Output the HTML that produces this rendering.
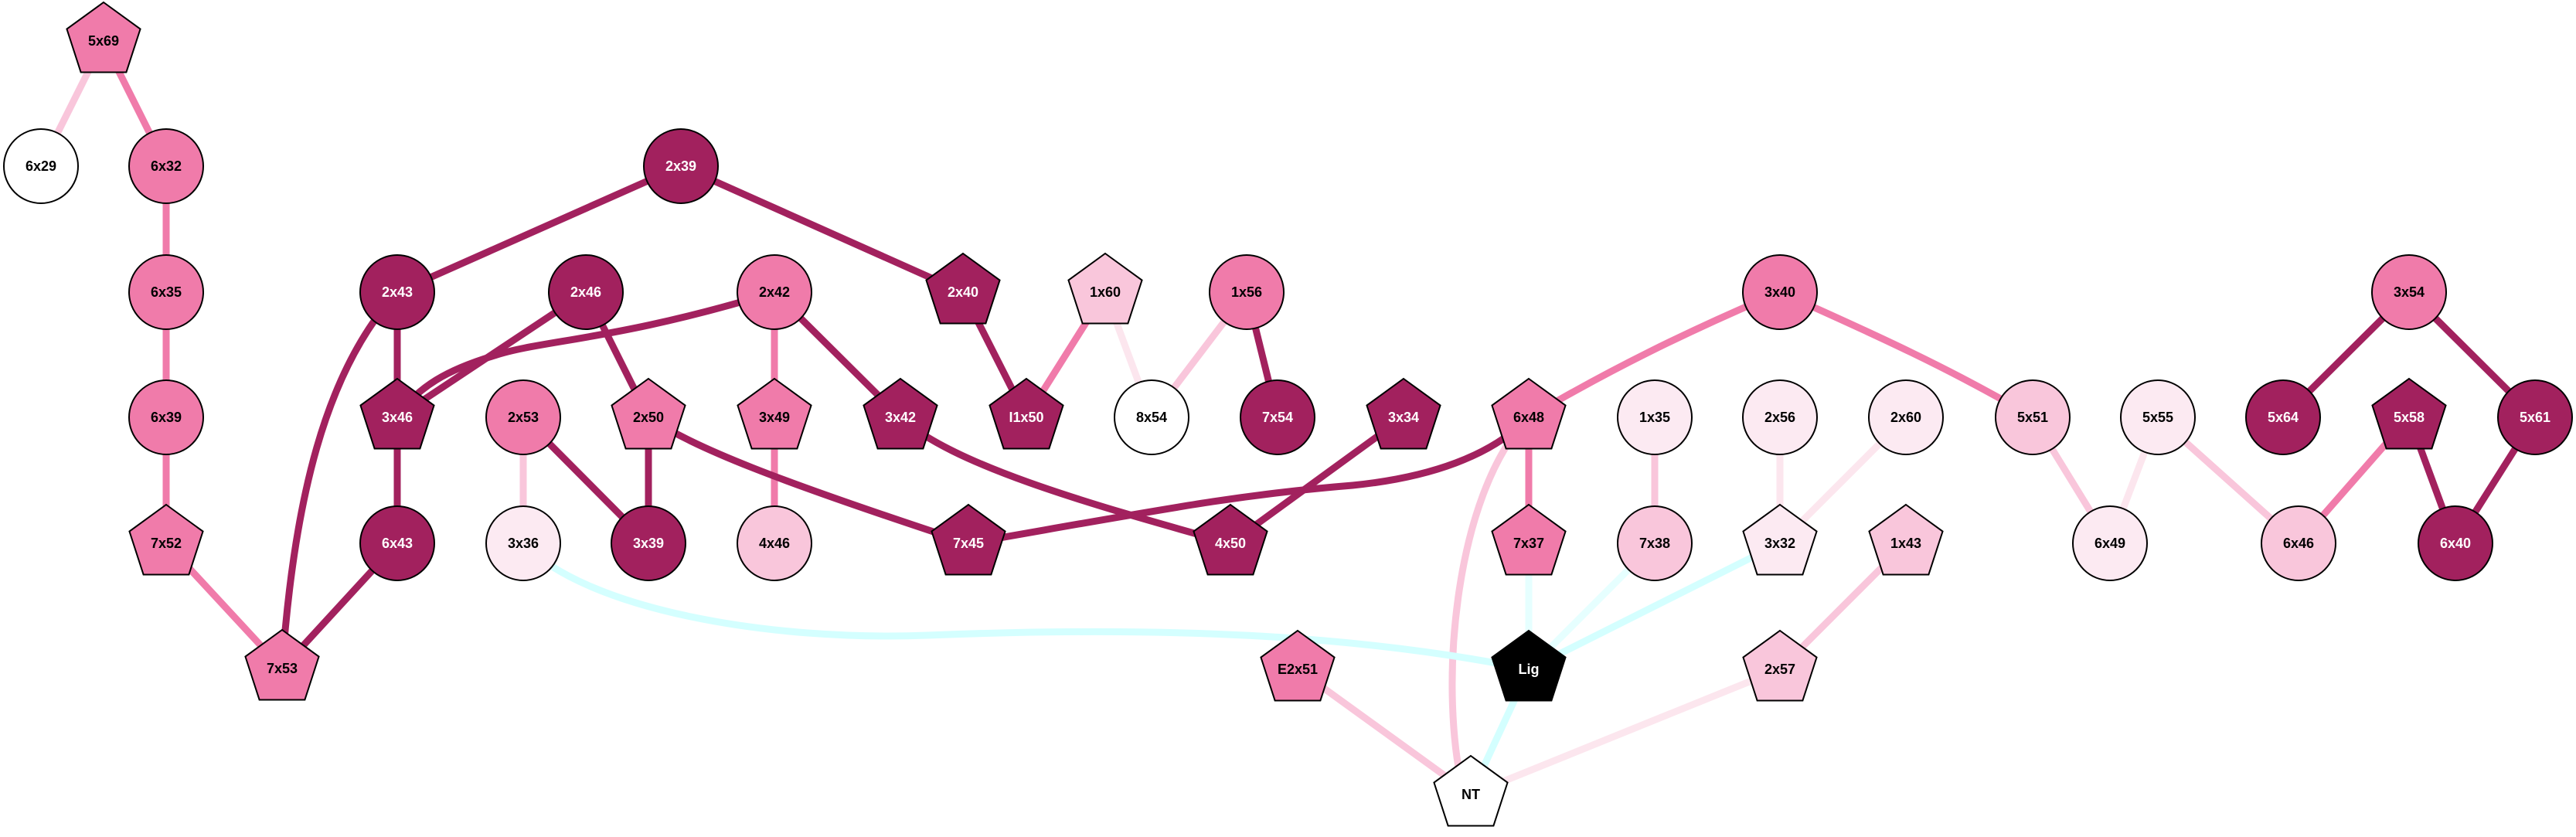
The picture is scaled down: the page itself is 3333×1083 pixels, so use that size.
<!DOCTYPE html>
<html><head><meta charset="utf-8"><style>html,body{margin:0;padding:0;background:#fff}svg{display:block}text{font-family:"Liberation Sans",sans-serif;font-weight:bold;font-size:18px;text-anchor:middle;dominant-baseline:central}</style></head>
<body>
<svg width="3333" height="1083" viewBox="0 0 3333 1083" xmlns="http://www.w3.org/2000/svg">
<defs>
<polygon id="pg" points="0,-50 47.55,-15.45 29.39,40.45 -29.39,40.45 -47.55,-15.45" stroke="#000" stroke-width="2"/>
</defs>
<g fill="none" stroke-width="9">
<!-- left chain -->
<line x1="134" y1="53" x2="53" y2="215" stroke="#F9C6DB"/>
<line x1="134" y1="53" x2="215" y2="215" stroke="#F07BAA"/>
<line x1="215" y1="215" x2="215" y2="703" stroke="#F07BAA"/>
<line x1="215" y1="703" x2="365" y2="865" stroke="#F07BAA"/>
<line x1="514" y1="703" x2="365" y2="865" stroke="#A2215E"/>
<path d="M514,378 C420,480 380,650 365,865" stroke="#A2215E"/>
<line x1="514" y1="378" x2="514" y2="703" stroke="#A2215E"/>
<line x1="881" y1="215" x2="514" y2="378" stroke="#A2215E"/>
<line x1="881" y1="215" x2="1246" y2="378" stroke="#A2215E"/>
<line x1="758" y1="378" x2="514" y2="540" stroke="#A2215E"/>
<path d="M1002,378 C800,440 700,440 640,460 C580,478 540,500 514,540" stroke="#A2215E"/>
<line x1="758" y1="378" x2="839" y2="540" stroke="#A2215E"/>
<line x1="839" y1="540" x2="839" y2="703" stroke="#A2215E"/>
<line x1="677" y1="540" x2="839" y2="703" stroke="#A2215E"/>
<line x1="677" y1="540" x2="677" y2="703" stroke="#F9C6DB"/>
<line x1="1002" y1="378" x2="1002" y2="703" stroke="#F07BAA"/>
<line x1="1002" y1="378" x2="1165" y2="540" stroke="#A2215E"/>
<path d="M839,540 C900,580 1000,620 1253,703" stroke="#A2215E"/>
<path d="M1165,540 C1230,600 1400,650 1592,703" stroke="#A2215E"/>
<line x1="1246" y1="378" x2="1328" y2="540" stroke="#A2215E"/>
<line x1="1430" y1="378" x2="1328" y2="540" stroke="#F07BAA"/>
<line x1="1430" y1="378" x2="1490" y2="540" stroke="#FCE6EE"/>
<line x1="1613" y1="378" x2="1490" y2="540" stroke="#F9C6DB"/>
<line x1="1613" y1="378" x2="1653" y2="540" stroke="#A2215E"/>
<line x1="1816" y1="540" x2="1592" y2="703" stroke="#A2215E"/>
<path d="M1253,703 C1500,660 1600,640 1750,628 C1850,618 1930,590 1978,540" stroke="#A2215E"/>
<line x1="1978" y1="540" x2="1978" y2="703" stroke="#F07BAA"/>
<path d="M1978,540 C1880,640 1860,900 1895,1030" stroke="#F9C6DB"/>
<path d="M2303,378 C2180,430 2080,480 1978,540" stroke="#F07BAA"/>
<path d="M2303,378 C2420,430 2530,480 2630,540" stroke="#F07BAA"/>
<line x1="2141" y1="540" x2="2141" y2="703" stroke="#F9C6DB"/>
<line x1="1978" y1="703" x2="1978" y2="866" stroke="#E6FFFF"/>
<line x1="2141" y1="703" x2="1978" y2="866" stroke="#E6FFFF"/>
<line x1="2303" y1="703" x2="1978" y2="866" stroke="#D4FFFF"/>
<path d="M677,703 C760,790 1000,830 1200,822 C1500,810 1750,820 1978,866" stroke="#D4FFFF"/>
<line x1="1978" y1="866" x2="1903" y2="1028" stroke="#D4FFFF"/>
<line x1="1679" y1="866" x2="1903" y2="1028" stroke="#F9C6DB"/>
<line x1="2303" y1="866" x2="1903" y2="1028" stroke="#FCE6EE"/>
<line x1="2303" y1="540" x2="2303" y2="703" stroke="#FCE6EE"/>
<line x1="2466" y1="540" x2="2303" y2="703" stroke="#FCE6EE"/>
<line x1="2466" y1="703" x2="2303" y2="866" stroke="#F9C6DB"/>
<line x1="2630" y1="540" x2="2730" y2="703" stroke="#F9C6DB"/>
<line x1="2792" y1="540" x2="2730" y2="703" stroke="#FCE6EE"/>
<line x1="2792" y1="540" x2="2974" y2="703" stroke="#F9C6DB"/>
<line x1="3117" y1="540" x2="2974" y2="703" stroke="#F07BAA"/>
<line x1="3117" y1="540" x2="3177" y2="703" stroke="#A2215E"/>
<line x1="3280" y1="540" x2="3177" y2="703" stroke="#A2215E"/>
<line x1="3117" y1="378" x2="2954" y2="540" stroke="#A2215E"/>
<line x1="3117" y1="378" x2="3280" y2="540" stroke="#A2215E"/>
</g>
<g stroke="#000" stroke-width="2">
<use href="#pg" x="134" y="53" fill="#F07BAA"/>
<circle cx="53" cy="215" r="48" fill="#fff"/>
<circle cx="215" cy="215" r="48" fill="#F07BAA"/>
<circle cx="215" cy="378" r="48" fill="#F07BAA"/>
<circle cx="215" cy="540" r="48" fill="#F07BAA"/>
<use href="#pg" x="215" y="703" fill="#F07BAA"/>
<use href="#pg" x="365" y="865" fill="#F07BAA"/>
<circle cx="881" cy="215" r="48" fill="#A2215E"/>
<circle cx="514" cy="378" r="48" fill="#A2215E"/>
<circle cx="758" cy="378" r="48" fill="#A2215E"/>
<circle cx="1002" cy="378" r="48" fill="#F07BAA"/>
<use href="#pg" x="1246" y="378" fill="#A2215E"/>
<use href="#pg" x="1430" y="378" fill="#F9C6DB"/>
<circle cx="1613" cy="378" r="48" fill="#F07BAA"/>
<circle cx="2303" cy="378" r="48" fill="#F07BAA"/>
<circle cx="3117" cy="378" r="48" fill="#F07BAA"/>
<use href="#pg" x="514" y="540" fill="#A2215E"/>
<circle cx="677" cy="540" r="48" fill="#F07BAA"/>
<use href="#pg" x="839" y="540" fill="#F07BAA"/>
<use href="#pg" x="1002" y="540" fill="#F07BAA"/>
<use href="#pg" x="1165" y="540" fill="#A2215E"/>
<use href="#pg" x="1328" y="540" fill="#A2215E"/>
<circle cx="1490" cy="540" r="48" fill="#fff"/>
<circle cx="1653" cy="540" r="48" fill="#A2215E"/>
<use href="#pg" x="1816" y="540" fill="#A2215E"/>
<use href="#pg" x="1978" y="540" fill="#F07BAA"/>
<circle cx="2141" cy="540" r="48" fill="#FCEAF2"/>
<circle cx="2303" cy="540" r="48" fill="#FCEAF2"/>
<circle cx="2466" cy="540" r="48" fill="#FCEAF2"/>
<circle cx="2630" cy="540" r="48" fill="#F9C6DB"/>
<circle cx="2792" cy="540" r="48" fill="#FCEAF2"/>
<circle cx="2954" cy="540" r="48" fill="#A2215E"/>
<use href="#pg" x="3117" y="540" fill="#A2215E"/>
<circle cx="3280" cy="540" r="48" fill="#A2215E"/>
<circle cx="514" cy="703" r="48" fill="#A2215E"/>
<circle cx="677" cy="703" r="48" fill="#FCEAF2"/>
<circle cx="839" cy="703" r="48" fill="#A2215E"/>
<circle cx="1002" cy="703" r="48" fill="#F9C6DB"/>
<use href="#pg" x="1253" y="703" fill="#A2215E"/>
<use href="#pg" x="1592" y="703" fill="#A2215E"/>
<use href="#pg" x="1978" y="703" fill="#F07BAA"/>
<circle cx="2141" cy="703" r="48" fill="#F9C6DB"/>
<use href="#pg" x="2303" y="703" fill="#FCEAF2"/>
<use href="#pg" x="2466" y="703" fill="#F9C6DB"/>
<circle cx="2730" cy="703" r="48" fill="#FCEAF2"/>
<circle cx="2974" cy="703" r="48" fill="#F9C6DB"/>
<circle cx="3177" cy="703" r="48" fill="#A2215E"/>
<use href="#pg" x="1679" y="866" fill="#F07BAA"/>
<use href="#pg" x="1978" y="866" fill="#000"/>
<use href="#pg" x="2303" y="866" fill="#F9C6DB"/>
<use href="#pg" x="1903" y="1028" fill="#fff"/>
</g>
<g fill="#000">
<text x="134" y="53">5x69</text><text x="53" y="215">6x29</text><text x="215" y="215">6x32</text>
<text x="215" y="378">6x35</text><text x="215" y="540">6x39</text><text x="215" y="703">7x52</text>
<text x="365" y="865">7x53</text><text x="1002" y="378">2x42</text><text x="1430" y="378">1x60</text>
<text x="1613" y="378">1x56</text><text x="2303" y="378">3x40</text><text x="3117" y="378">3x54</text>
<text x="677" y="540">2x53</text><text x="839" y="540">2x50</text><text x="1002" y="540">3x49</text>
<text x="1490" y="540">8x54</text><text x="1978" y="540">6x48</text><text x="2141" y="540">1x35</text>
<text x="2303" y="540">2x56</text><text x="2466" y="540">2x60</text><text x="2630" y="540">5x51</text>
<text x="2792" y="540">5x55</text><text x="677" y="703">3x36</text><text x="1002" y="703">4x46</text>
<text x="1978" y="703">7x37</text><text x="2141" y="703">7x38</text><text x="2303" y="703">3x32</text>
<text x="2466" y="703">1x43</text><text x="2730" y="703">6x49</text><text x="2974" y="703">6x46</text>
<text x="1679" y="866">E2x51</text><text x="2303" y="866">2x57</text><text x="1903" y="1028">NT</text>
</g>
<g fill="#fff">
<text x="881" y="215">2x39</text><text x="514" y="378">2x43</text><text x="758" y="378">2x46</text>
<text x="1246" y="378">2x40</text><text x="514" y="540">3x46</text><text x="1165" y="540">3x42</text>
<text x="1328" y="540">I1x50</text><text x="1653" y="540">7x54</text><text x="1816" y="540">3x34</text>
<text x="2954" y="540">5x64</text><text x="3117" y="540">5x58</text><text x="3280" y="540">5x61</text>
<text x="514" y="703">6x43</text><text x="839" y="703">3x39</text><text x="1253" y="703">7x45</text>
<text x="1592" y="703">4x50</text><text x="3177" y="703">6x40</text><text x="1978" y="866">Lig</text>
</g>
</svg>
</body></html>
